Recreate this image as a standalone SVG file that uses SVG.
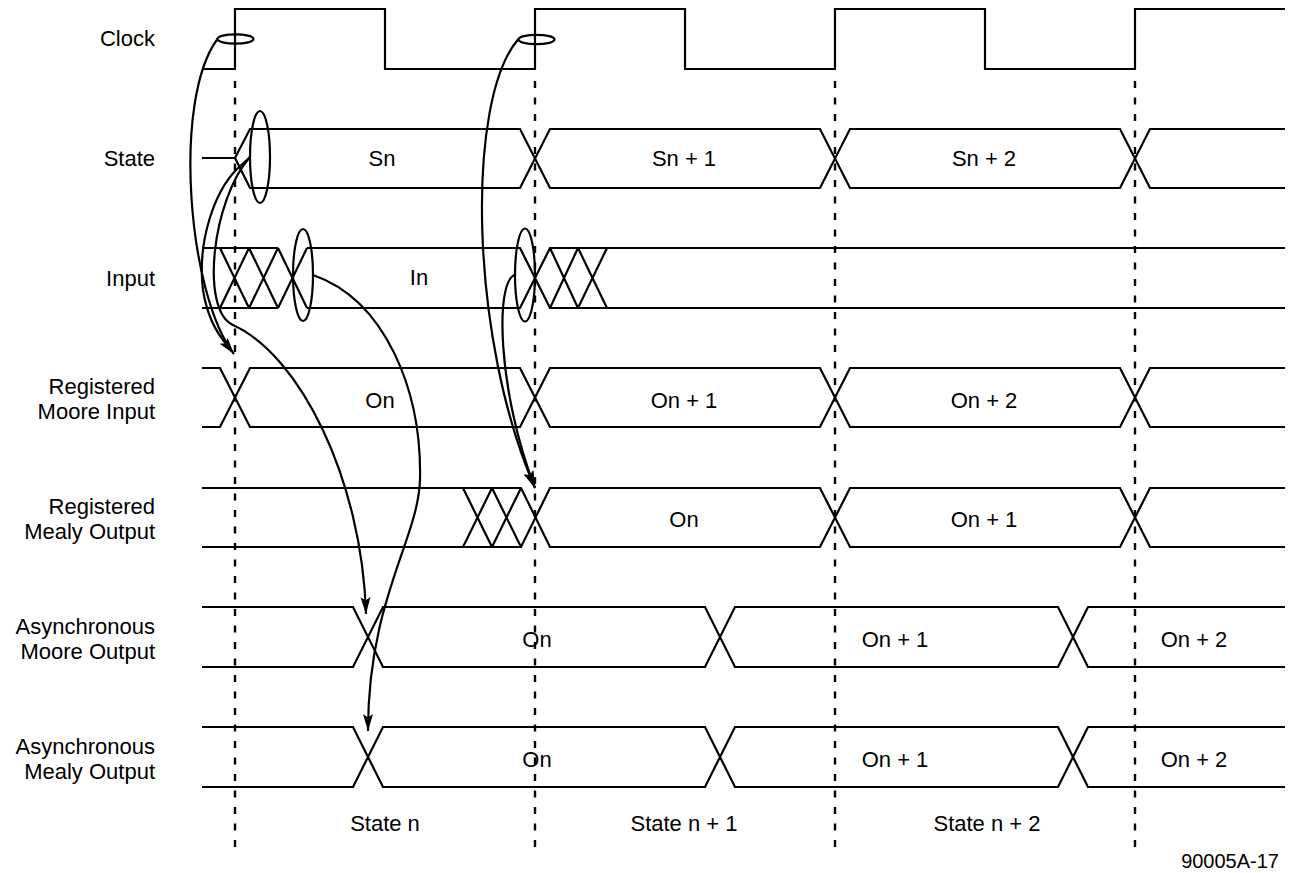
<svg xmlns="http://www.w3.org/2000/svg" width="1289" height="873" viewBox="0 0 1289 873">
<defs>
<style>
.w{fill:none;stroke:#000;stroke-width:2.2;stroke-linejoin:miter}
.d{fill:none;stroke:#000;stroke-width:2.4;stroke-dasharray:7 9.5}
.c{fill:none;stroke:#000;stroke-width:2.2}
.e{fill:none;stroke:#000;stroke-width:2.2}
text{font-family:"Liberation Sans",Arial,sans-serif;font-size:22px;fill:#000}
.l{text-anchor:end}
.m{text-anchor:middle}
</style>
<marker id="ah" markerUnits="userSpaceOnUse" markerWidth="19" markerHeight="11" refX="17" refY="5" orient="auto">
<path d="M0,0 L17,5 L0,10 L3.5,5 z" fill="#000"/>
</marker>
</defs>
<rect width="1289" height="873" fill="#fff"/>

<g id="gridlines">
<line class="d" x1="235" y1="81" x2="235" y2="848"/>
<line class="d" x1="535" y1="81" x2="535" y2="848"/>
<line class="d" x1="835" y1="81" x2="835" y2="848"/>
<line class="d" x1="1135" y1="81" x2="1135" y2="848"/>
</g>

<g id="clock">
<text class="l" x="155" y="46">Clock</text>
<path class="w" d="M202,69 H235 V9 H385 V69 H535 V9 H685 V69 H835 V9 H985 V69 H1135 V9 H1285"/>
</g>

<g id="state">
<text class="l" x="155" y="166">State</text>
<path class="w" d="M202,158 H235 L250,129 H520 L550,188 H820 L850,129 H1120 L1150,188 H1285"/>
<path class="w" d="M235,158 L250,188 H520 L550,129 H820 L850,188 H1120 L1150,129 H1285"/>
<text class="m" x="382" y="166">Sn</text>
<text class="m" x="684" y="166">Sn + 1</text>
<text class="m" x="984" y="166">Sn + 2</text>
</g>

<g id="input">
<text class="l" x="155" y="286">Input</text>
<path class="w" d="M202,248 H278 M202,308 H278"/>
<path class="w" d="M220,248 L249,308 M220,308 L249,248 M249,248 L278,308 M249,308 L278,248 M278,248 L307,308 M278,308 L307,248"/>
<path class="w" d="M307,248 H520 L550,308 H1285 M307,308 H520 L550,248 H1285"/>
<path class="w" d="M550,248 L578,308 M550,308 L578,248 M578,248 L607,308 M578,308 L607,248"/>
<text class="m" x="419" y="285">In</text>
</g>

<g id="reg-moore">
<text class="l" x="155" y="394">Registered</text>
<text class="l" x="155" y="419">Moore Input</text>
<path class="w" d="M202,368 H220 L250,427 H520 L550,368 H820 L850,427 H1120 L1150,368 H1285"/>
<path class="w" d="M202,427 H220 L250,368 H520 L550,427 H820 L850,368 H1120 L1150,427 H1285"/>
<text class="m" x="380" y="408">On</text>
<text class="m" x="684" y="408">On + 1</text>
<text class="m" x="984" y="408">On + 2</text>
</g>

<g id="reg-mealy">
<text class="l" x="155" y="514">Registered</text>
<text class="l" x="155" y="539">Mealy Output</text>
<path class="w" d="M202,488 H521 L550,547 H820 L850,488 H1120 L1150,547 H1285"/>
<path class="w" d="M202,547 H521 L550,488 H820 L850,547 H1120 L1150,488 H1285"/>
<path class="w" d="M463,488 L492,547 M463,547 L492,488 M492,488 L521,547 M492,547 L521,488"/>
<text class="m" x="684" y="527">On</text>
<text class="m" x="984" y="527">On + 1</text>
</g>

<g id="async-moore">
<text class="l" x="155" y="634">Asynchronous</text>
<text class="l" x="155" y="659">Moore Output</text>
<path class="w" d="M202,607 H353 L383,667 H705 L735,607 H1058 L1088,667 H1285"/>
<path class="w" d="M202,667 H353 L383,607 H705 L735,667 H1058 L1088,607 H1285"/>
<text class="m" x="537" y="647">On</text>
<text class="m" x="895" y="647">On + 1</text>
<text class="m" x="1194" y="647">On + 2</text>
</g>

<g id="async-mealy">
<text class="l" x="155" y="754">Asynchronous</text>
<text class="l" x="155" y="779">Mealy Output</text>
<path class="w" d="M202,727 H353 L383,787 H705 L735,727 H1058 L1088,787 H1285"/>
<path class="w" d="M202,787 H353 L383,727 H705 L735,787 H1058 L1088,727 H1285"/>
<text class="m" x="537" y="767">On</text>
<text class="m" x="895" y="767">On + 1</text>
<text class="m" x="1194" y="767">On + 2</text>
</g>

<g id="state-labels">
<text class="m" x="385" y="831">State n</text>
<text class="m" x="684" y="831">State n + 1</text>
<text class="m" x="987" y="831">State n + 2</text>
<text class="l" x="1279" y="868" style="font-size:20px">90005A-17</text>
</g>

<g id="ellipse-clock1"><ellipse class="e" cx="235.5" cy="39" rx="18" ry="4.7"/></g>
<g id="ellipse-clock2"><ellipse class="e" cx="536.5" cy="39.5" rx="18" ry="4.7"/></g>
<g id="ellipse-state"><ellipse class="e" cx="260" cy="157" rx="10" ry="46"/></g>
<g id="ellipse-input1"><ellipse class="e" cx="303" cy="275" rx="10" ry="46"/></g>
<g id="ellipse-input2"><ellipse class="e" cx="525" cy="275" rx="10" ry="46.5"/></g>

<g id="connectors">
<path class="c" d="M217.5,39 C172,100 188,295 234,354" marker-end="url(#ah)"/>
<path class="c" d="M250,157 L236,170 C215,192 197,240 203,290 C207,316 218,335 228,346"/>
<path class="c" d="M250,157 C212,200 200,310 233,325 C300,355 362,480 366,614" marker-end="url(#ah)"/>
<path class="c" d="M313,275 C385,300 422,390 420,480 C418,540 368,600 368,731" marker-end="url(#ah)"/>
<path class="c" d="M518.5,39 C465,100 470,340 535,488" marker-end="url(#ah)"/>
<path class="c" d="M515,275 C495,280 497,390 535,488" marker-end="url(#ah)"/>
</g>
</svg>
